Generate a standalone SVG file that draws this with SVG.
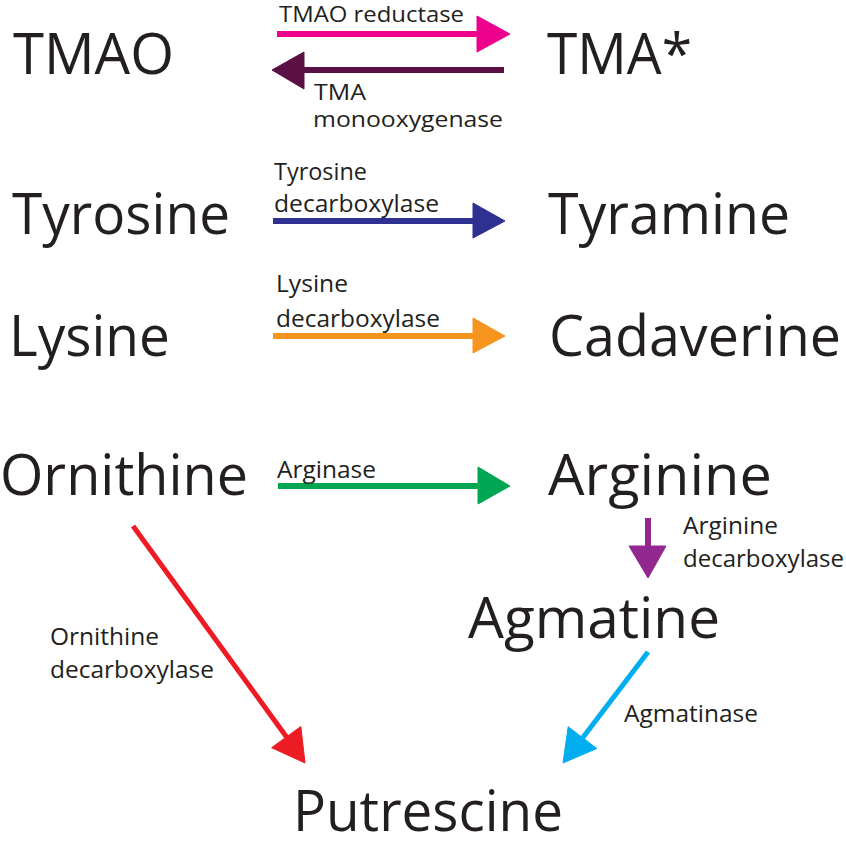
<svg xmlns="http://www.w3.org/2000/svg" width="846" height="845" viewBox="0 0 846 845">
<style>
  text { font-family: "Open Sans", "Noto Sans", "Liberation Sans", sans-serif; fill: #231F20; }
  .big { font-size: 56px; }
  .small { font-size: 24px; }
  .tight { font-size: 22px; }
  .ln { fill: none; stroke-width: 6; }
  .pink { stroke: #EC008C; fill: #EC008C; }
  .plum { stroke: #5A0F45; fill: #5A0F45; }
  .navy { stroke: #2E3192; fill: #2E3192; }
  .orange { stroke: #F7941D; fill: #F7941D; }
  .green { stroke: #00A651; fill: #00A651; }
  .violet { stroke: #92278F; fill: #92278F; }
  .red { stroke: #ED1C24; fill: #ED1C24; }
  .cyan { stroke: #00AEEF; fill: #00AEEF; }
  polygon { stroke: none; }
</style>
<rect width="846" height="845" fill="#ffffff"/>

<g id="connectors">
  <g id="tmao-reductase">
    <line class="ln pink" x1="277" y1="34" x2="479" y2="34"/>
    <polygon class="pink" points="477,16 510,34 477,52"/>
  </g>
  <g id="tma-monooxygenase">
    <line class="ln plum" x1="504" y1="70" x2="302" y2="70"/>
    <polygon class="plum" points="304,52 272,70 304,89"/>
  </g>
  <g id="tyrosine-decarboxylase">
    <line class="ln navy" x1="273" y1="221" x2="475" y2="221"/>
    <polygon class="navy" points="473,203 505,221 473,238"/>
  </g>
  <g id="lysine-decarboxylase">
    <line class="ln orange" x1="273" y1="336" x2="475" y2="336"/>
    <polygon class="orange" points="473,318 505,336 473,353"/>
  </g>
  <g id="arginase">
    <line class="ln green" x1="278" y1="486" x2="480" y2="486"/>
    <polygon class="green" points="478,467 510,486 478,504"/>
  </g>
  <g id="arginine-decarboxylase">
    <line class="ln violet" x1="648" y1="518" x2="648" y2="548"/>
    <polygon class="violet" points="629,546 648,578 666,546"/>
  </g>
  <g id="ornithine-decarboxylase">
    <line class="ln red" style="stroke-width:5" x1="133" y1="526" x2="288" y2="739"/>
    <polygon class="red" points="271.6,747.7 305,763 300.8,726.5"/>
  </g>
  <g id="agmatinase">
    <line class="ln cyan" style="stroke-width:5" x1="648" y1="652" x2="581" y2="740"/>
    <polygon class="cyan" points="596.8,748.5 563,763 568.2,726.7"/>
  </g>
</g>

<g id="enzyme-labels">
  <text class="tight" x="279" y="22" textLength="185" lengthAdjust="spacingAndGlyphs">TMAO reductase</text>
  <text class="tight" x="314" y="100" textLength="52" lengthAdjust="spacingAndGlyphs">TMA</text>
  <text class="tight" x="313" y="127" textLength="190" lengthAdjust="spacingAndGlyphs">monooxygenase</text>
  <text class="small" x="274" y="180" textLength="93" lengthAdjust="spacingAndGlyphs">Tyrosine</text>
  <text class="small" x="274" y="212" textLength="165" lengthAdjust="spacingAndGlyphs">decarboxylase</text>
  <text class="small" x="276" y="292" textLength="72" lengthAdjust="spacingAndGlyphs">Lysine</text>
  <text class="small" x="276" y="327" textLength="164" lengthAdjust="spacingAndGlyphs">decarboxylase</text>
  <text class="small" x="277" y="478" textLength="99" lengthAdjust="spacingAndGlyphs">Arginase</text>
  <text class="small" x="683" y="534" textLength="95" lengthAdjust="spacingAndGlyphs">Arginine</text>
  <text class="small" x="683" y="567" textLength="161" lengthAdjust="spacingAndGlyphs">decarboxylase</text>
  <text class="small" x="50" y="645" textLength="109" lengthAdjust="spacingAndGlyphs">Ornithine</text>
  <text class="small" x="50" y="678" textLength="164" lengthAdjust="spacingAndGlyphs">decarboxylase</text>
  <text class="small" x="624" y="722" textLength="134" lengthAdjust="spacingAndGlyphs">Agmatinase</text>
</g>

<g id="node-tmao"><text class="big" x="13" y="74" textLength="161" lengthAdjust="spacingAndGlyphs">TMAO</text></g>
<g id="node-tma"><text class="big" x="547" y="74" textLength="145" lengthAdjust="spacingAndGlyphs">TMA*</text></g>
<g id="node-tyrosine"><text class="big" x="12" y="234" textLength="218" lengthAdjust="spacingAndGlyphs">Tyrosine</text></g>
<g id="node-tyramine"><text class="big" x="548" y="234" textLength="242" lengthAdjust="spacingAndGlyphs">Tyramine</text></g>
<g id="node-lysine"><text class="big" x="9" y="356" textLength="161" lengthAdjust="spacingAndGlyphs">Lysine</text></g>
<g id="node-cadaverine"><text class="big" x="549" y="356" textLength="292" lengthAdjust="spacingAndGlyphs">Cadaverine</text></g>
<g id="node-ornithine"><text class="big" x="0" y="495" textLength="248" lengthAdjust="spacingAndGlyphs">Ornithine</text></g>
<g id="node-arginine"><text class="big" x="548" y="495" textLength="224" lengthAdjust="spacingAndGlyphs">Arginine</text></g>
<g id="node-agmatine"><text class="big" x="468" y="638" textLength="252" lengthAdjust="spacingAndGlyphs">Agmatine</text></g>
<g id="node-putrescine"><text class="big" x="293" y="831" textLength="270" lengthAdjust="spacingAndGlyphs">Putrescine</text></g>
</svg>
